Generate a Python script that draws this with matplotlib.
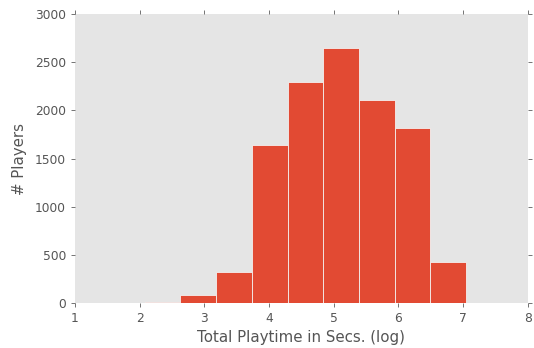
import matplotlib
matplotlib.use("Agg")
import matplotlib.pyplot as plt
import numpy as np

bin_edges = [2.08, 2.632, 3.184, 3.736, 4.288, 4.84, 5.392, 5.944, 6.496, 7.048]
counts = [18, 85, 323, 1640, 2292, 2651, 2108, 1815, 424]
xticks = [1, 2, 3, 4, 5, 6, 7, 8]
yticks = [0, 500, 1000, 1500, 2000, 2500, 3000]

fig = plt.figure(figsize=(534/72, 348/72), dpi=72)
ax = fig.add_axes([0.1404, 0.1284, 0.988-0.1404, 0.96-0.1284])
ax.set_facecolor("#E5E5E5")
centers = [(a+b)/2 for a, b in zip(bin_edges[:-1], bin_edges[1:])]
ax.hist(centers, bins=bin_edges, weights=counts, color="#E24A33", edgecolor="#F5F5F5", linewidth=0.8)
ax.set_xlim(1, 8)
ax.set_ylim(0, 3000)
ax.set_xticks(xticks)
ax.set_yticks(yticks)
for s in ax.spines.values():
    s.set_visible(False)
ax.tick_params(direction="out", length=4, width=0.8, color="#555555", labelcolor="#555555",
               labelsize=12.3, top=True, right=True, pad=5)
ax.set_xlabel("Total Playtime in Secs. (log)", fontsize=15, color="#555555", labelpad=5)
ax.set_ylabel("# Players", fontsize=15, color="#555555", labelpad=8)
fig.savefig("out.png", dpi=72)
